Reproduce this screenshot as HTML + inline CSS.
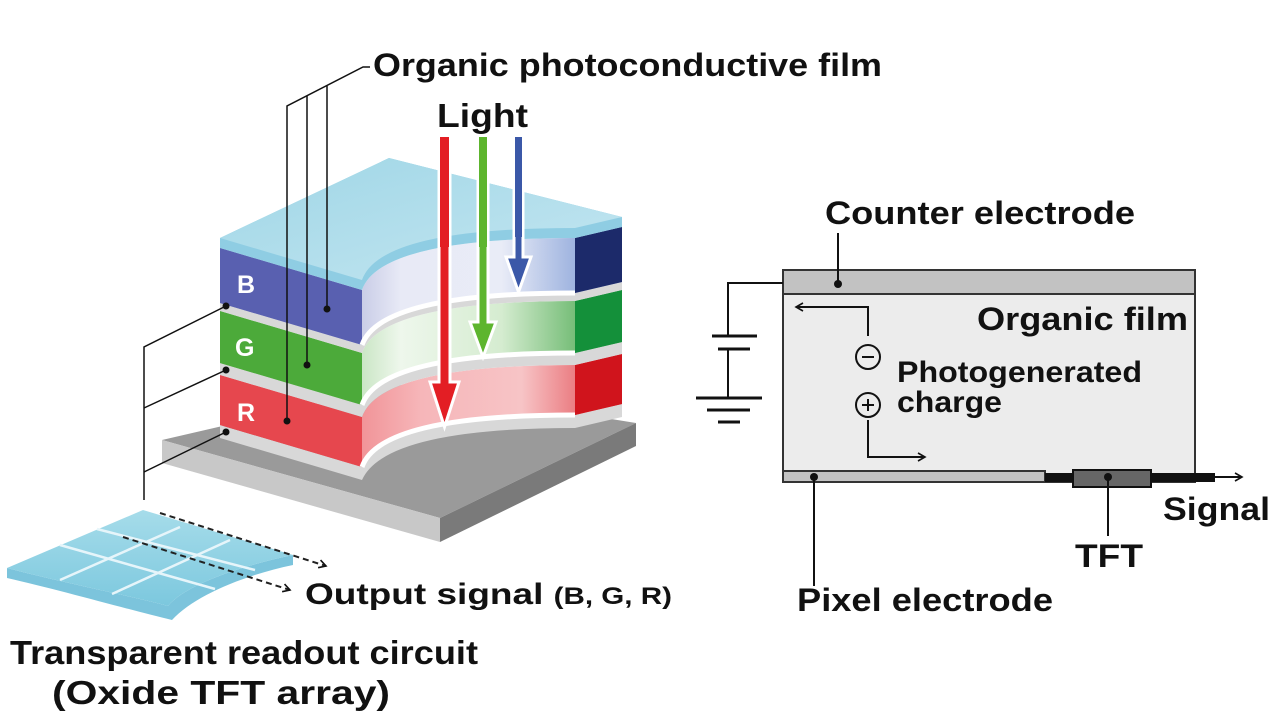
<!DOCTYPE html>
<html><head><meta charset="utf-8"><style>
html,body{margin:0;padding:0;background:#fff}
svg{display:block}
text{font-family:"Liberation Sans",Arial,sans-serif;font-weight:bold;fill:#111}
</style></head><body>
<svg width="1280" height="719" viewBox="0 0 1280 719" xmlns="http://www.w3.org/2000/svg">
<defs>
<linearGradient id="gb" x1="0" x2="1"><stop offset="0" stop-color="#5a63b0"/><stop offset="0.45" stop-color="#e8eaf6"/><stop offset="0.7" stop-color="#e9ecf7"/><stop offset="1" stop-color="#6f8fd0"/></linearGradient>
<linearGradient id="gg" x1="0" x2="1"><stop offset="0" stop-color="#4aa838"/><stop offset="0.45" stop-color="#eef7ec"/><stop offset="0.7" stop-color="#d5ecd0"/><stop offset="1" stop-color="#3aa040"/></linearGradient>
<linearGradient id="gr" x1="0" x2="1"><stop offset="0" stop-color="#e6434a"/><stop offset="0.5" stop-color="#f6b6b9"/><stop offset="0.75" stop-color="#f7c4c6"/><stop offset="1" stop-color="#e04048"/></linearGradient>
<linearGradient id="gt" x1="0" x2="1" y1="0" y2="1"><stop offset="0" stop-color="#9fd6e6"/><stop offset="1" stop-color="#c4e6f1"/></linearGradient>
<linearGradient id="gc" x1="0" x2="0" y1="0" y2="1"><stop offset="0" stop-color="#a6dcea"/><stop offset="1" stop-color="#7cc8de"/></linearGradient>
<marker id="ah" markerWidth="10" markerHeight="10" refX="8" refY="5" orient="auto" markerUnits="userSpaceOnUse"><path d="M1,1 L8,5 L1,9" fill="none" stroke="#111" stroke-width="1.6"/></marker>
</defs>

<polygon points="162,440 400,385 636,423 440,518" fill="#9a9a9a"/>
<polygon points="162,440 440,518 440,542 162,463" fill="#c8c8c8"/>
<polygon points="440,518 636,423 636,446 440,542" fill="#7a7a7a"/>

<path d="M220,425 L362,467 Q380,415 575,415 L622,404 L622,417 L575,428 Q385,428 362,480 L220,438Z" fill="#d8d8d8"/>
<path d="M220,375 L362,417 Q380,365 575,365 L622,354 L622,404 L575,415 Q380,415 362,467 L220,425Z" fill="url(#gr)"/>
<path d="M220,375 L362,417 L362,467 L220,425Z" fill="#e6474e"/>
<path d="M575,365 L622,354 L622,404 L575,415Z" fill="#d0141c"/>
<path d="M362,467 Q380,415 575,415" fill="none" stroke="#fff" stroke-width="5"/>
<path d="M220,363 L362,405 Q380,353 575,353 L622,342 L622,354 L575,365 Q380,365 362,417 L220,375Z" fill="#d8d8d8"/>
<path d="M220,311 L362,353 Q380,301 575,301 L622,290 L622,342 L575,353 Q380,353 362,405 L220,363Z" fill="url(#gg)"/>
<path d="M220,311 L362,353 L362,405 L220,363Z" fill="#4caa3a"/>
<path d="M575,301 L622,290 L622,342 L575,353Z" fill="#14903a"/>
<path d="M362,405 Q380,353 575,353" fill="none" stroke="#fff" stroke-width="5"/>
<path d="M220,303 L362,345 Q380,293 575,293 L622,282 L622,290 L575,301 Q380,301 362,353 L220,311Z" fill="#d8d8d8"/>
<path d="M220,248 L362,290 Q380,238 575,238 L622,227 L622,282 L575,293 Q380,293 362,345 L220,303Z" fill="url(#gb)"/>
<path d="M220,248 L362,290 L362,345 L220,303Z" fill="#5960b0"/>
<path d="M575,238 L622,227 L622,282 L575,293Z" fill="#1c2a6a"/>
<path d="M362,345 Q380,293 575,293" fill="none" stroke="#fff" stroke-width="5"/>
<path d="M220,238 L389,158 L622,217 L622,227 L575,238 Q380,238 362,290 L220,248Z" fill="#8fcde3"/>
<path d="M220,238 L389,158 L622,217 L575,228 Q380,228 362,280Z" fill="url(#gt)"/>

<text x="237" y="293" font-size="25" style="fill:#fff">B</text>
<text x="235" y="356" font-size="25" style="fill:#fff">G</text>
<text x="237" y="421" font-size="25" style="fill:#fff">R</text>

<g stroke="#fff" stroke-width="3" stroke-linejoin="miter">
<path d="M439,137 h11 v245 h9 l-14.5,45 l-14.5,-45 h9z" fill="#e31e24"/>
<path d="M478,137 h10 v185 h8 l-13,35 l-13,-35 h8z" fill="#5db52e"/>
<path d="M514,137 h9 v120 h8 l-12.5,35 l-12.5,-35 h8z" fill="#3b58a8"/>
</g>
<rect x="440" y="137" width="9" height="110" fill="#e31e24"/>
<rect x="479" y="137" width="8" height="110" fill="#5db52e"/>
<rect x="515" y="137" width="7" height="100" fill="#3b58a8"/>

<g stroke="#111" stroke-width="1.5" fill="none">
<polyline points="370,67 363,67 287,106 287,421"/>
<line x1="307" y1="96" x2="307" y2="365"/>
<line x1="327" y1="86" x2="327" y2="309"/>
<polyline points="226,306 144,347 144,500"/>
<line x1="226" y1="370" x2="144" y2="408"/>
<line x1="226" y1="432" x2="144" y2="472"/>
</g>
<g fill="#111"><circle cx="327" cy="309" r="3.5"/><circle cx="307" cy="365" r="3.5"/><circle cx="287" cy="421" r="3.5"/>
<circle cx="226" cy="306" r="3.5"/><circle cx="226" cy="370" r="3.5"/><circle cx="226" cy="432" r="3.5"/></g>

<path d="M7,568 C60,582 140,598 168,606 C185,585 240,566 293,555 L293,565 C245,575 195,595 172,620 C130,610 60,590 7,578Z" fill="#7cc4dc"/>
<path d="M7,568 L143,510 L293,555 C240,566 185,585 168,606 C140,598 60,582 7,568Z" fill="url(#gc)"/>
<g stroke="#e6f5fa" stroke-width="2.5" fill="none">
<line x1="60" y1="545" x2="215" y2="589"/>
<line x1="97" y1="529" x2="255" y2="570"/>
<line x1="60" y1="580" x2="180" y2="527"/>
<line x1="112" y1="594" x2="230" y2="540"/>
</g>
<g stroke="#222" stroke-width="2" stroke-dasharray="6,4" fill="none" marker-end="url(#ah)">
<line x1="160" y1="513" x2="326" y2="566"/>
<line x1="123" y1="537" x2="290" y2="590"/>
</g>

<text x="373" y="76" font-size="32" textLength="509" lengthAdjust="spacingAndGlyphs">Organic photoconductive film</text>
<text x="437" y="127" font-size="33" textLength="91" lengthAdjust="spacingAndGlyphs">Light</text>
<text x="305" y="604" font-size="30" textLength="367" lengthAdjust="spacingAndGlyphs">Output signal <tspan font-size="24">(B, G, R)</tspan></text>
<text x="10" y="664" font-size="33" textLength="468" lengthAdjust="spacingAndGlyphs">Transparent readout circuit</text>
<text x="52" y="704" font-size="33" textLength="338" lengthAdjust="spacingAndGlyphs">(Oxide TFT array)</text>

<rect x="783" y="270" width="412" height="212" fill="#ececec" stroke="#333" stroke-width="2"/>
<rect x="783" y="270" width="412" height="24" fill="#c2c2c2" stroke="#333" stroke-width="2"/>
<rect x="783" y="471" width="262" height="11" fill="#c2c2c2" stroke="#333" stroke-width="2"/>
<rect x="1045" y="473" width="30" height="9" fill="#111"/>
<rect x="1073" y="470" width="78" height="17" fill="#666" stroke="#111" stroke-width="2"/>
<rect x="1150" y="473" width="65" height="9" fill="#111"/>
<g stroke="#111" stroke-width="2" fill="none">
<line x1="1215" y1="477" x2="1242" y2="477" marker-end="url(#ah)"/>
<line x1="838" y1="284" x2="838" y2="233"/>
<line x1="814" y1="477" x2="814" y2="586"/>
<line x1="1108" y1="477" x2="1108" y2="536"/>
<polyline points="783,283 728,283 728,336"/>
<line x1="712" y1="336" x2="757" y2="336" stroke-width="3"/>
<line x1="718" y1="349" x2="750" y2="349" stroke-width="3"/>
<polyline points="728,349 728,398"/>
<line x1="696" y1="398" x2="762" y2="398" stroke-width="3"/>
<line x1="707" y1="410" x2="750" y2="410" stroke-width="3"/>
<line x1="718" y1="422" x2="740" y2="422" stroke-width="3"/>
<polyline points="868,336 868,307 796,307" marker-end="url(#ah)"/>
<polyline points="868,420 868,457 925,457" marker-end="url(#ah)"/>
<circle cx="868" cy="357" r="12"/>
<circle cx="868" cy="405" r="12"/>
<line x1="862" y1="357" x2="874" y2="357"/>
<line x1="862" y1="405" x2="874" y2="405"/><line x1="868" y1="399" x2="868" y2="411"/>
</g>
<g fill="#111"><circle cx="838" cy="284" r="4"/><circle cx="814" cy="477" r="4"/><circle cx="1108" cy="477" r="4"/></g>

<text x="825" y="224" font-size="32" textLength="310" lengthAdjust="spacingAndGlyphs">Counter electrode</text>
<text x="977" y="330" font-size="32" textLength="211" lengthAdjust="spacingAndGlyphs">Organic film</text>
<text x="897" y="382" font-size="30" textLength="245" lengthAdjust="spacingAndGlyphs">Photogenerated</text>
<text x="897" y="412" font-size="30" textLength="105" lengthAdjust="spacingAndGlyphs">charge</text>
<text x="1163" y="520" font-size="32" textLength="107" lengthAdjust="spacingAndGlyphs">Signal</text>
<text x="1075" y="567" font-size="32" textLength="68" lengthAdjust="spacingAndGlyphs">TFT</text>
<text x="797" y="611" font-size="32" textLength="256" lengthAdjust="spacingAndGlyphs">Pixel electrode</text>
</svg>
</body></html>
